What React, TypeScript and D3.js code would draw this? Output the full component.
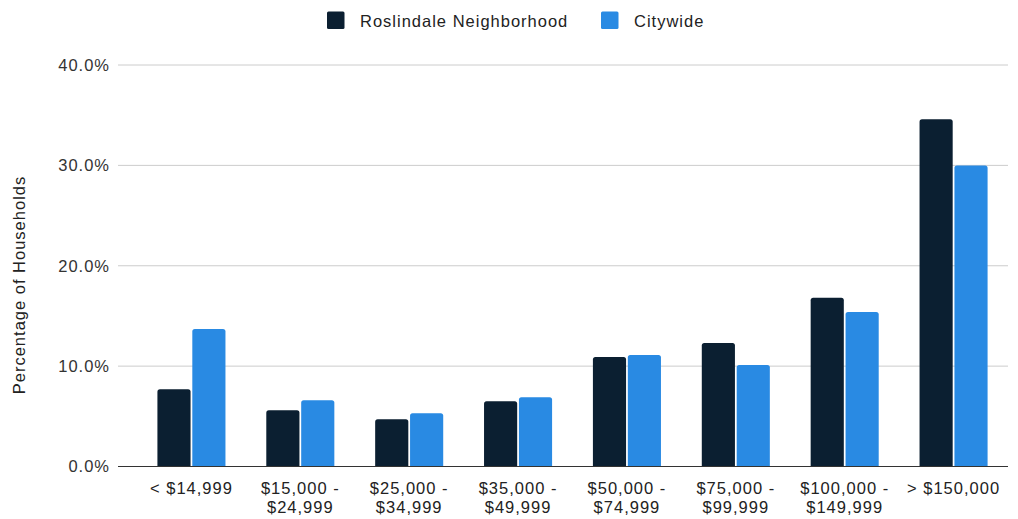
import * as d3 from "d3";

const categories = [
  ["< $14,999"],
  ["$15,000 -", "$24,999"],
  ["$25,000 -", "$34,999"],
  ["$35,000 -", "$49,999"],
  ["$50,000 -", "$74,999"],
  ["$75,000 -", "$99,999"],
  ["$100,000 -", "$149,999"],
  ["> $150,000"],
];
const roslindale = [7.7, 5.6, 4.7, 6.5, 10.9, 12.3, 16.8, 34.6];
const citywide = [13.7, 6.6, 5.3, 6.9, 11.1, 10.1, 15.4, 30.0];
const yTicks = [0, 10, 20, 30, 40];
const seriesNames = ["Roslindale Neighborhood", "Citywide"];
const colors = ["#0b1f31", "#298ae3"];

const width = 1018;
const height = 519;
const font = "'Liberation Sans', Arial, sans-serif";
const fs = 16.5;
const ls = 1;

function topRounded(x: number, y: number, w: number, h: number, r: number) {
  const rr = Math.min(r, h, w / 2);
  return `M${x},${y + h}V${y + rr}Q${x},${y} ${x + rr},${y}H${x + w - rr}Q${x + w},${y} ${x + w},${y + rr}V${y + h}Z`;
}

export default function App() {
  const keys = categories.map((c) => c.join(" "));
  const x = d3.scaleBand().domain(keys).range([137, 1008]).paddingInner(0.375).paddingOuter(0.1875);
  const sub = d3.scaleBand().domain(["0", "1"]).range([0, x.bandwidth()]).paddingInner(0.05);
  const y = d3.scaleLinear().domain([0, 40]).range([466.5, 65]);
  const fmt = d3.format(".1f");
  const series = [roslindale, citywide];

  return (
    <>
      <style>{"body{margin:0}"}</style>
      <svg width={width} height={height} style={{ display: "block", fontFamily: font, letterSpacing: ls }}>
        <rect width={width} height={height} fill="#fff" />
        {yTicks.map((t) => (
          <g key={t}>
            {t !== 0 && <line x1={118} x2={1008} y1={y(t)} y2={y(t)} stroke="#cccccc" strokeWidth={1} />}
            <text x={110} y={y(t)} dy="0.35em" textAnchor="end" fontSize={fs} fill="#333">
              {fmt(t)}%
            </text>
          </g>
        ))}
        {series.map((vals, si) =>
          vals.map((v, i) => {
            const bx = x(keys[i])! + sub(String(si))!;
            return (
              <path
                key={`${si}-${i}`}
                d={topRounded(bx, y(v), sub.bandwidth(), y(0) - y(v), 2.5)}
                fill={colors[si]}
              />
            );
          })
        )}
        <line x1={118} x2={1008} y1={y(0)} y2={y(0)} stroke="#333" strokeWidth={1.2} />
        {categories.map((lines, i) => (
          <text
            key={i}
            x={x(keys[i])! + x.bandwidth() / 2}
            y={494}
            textAnchor="middle"
            fontSize={fs}
            fill="#222"
          >
            {lines.map((l, j) => (
              <tspan key={j} x={x(keys[i])! + x.bandwidth() / 2} dy={j === 0 ? 0 : 19}>
                {l}
              </tspan>
            ))}
          </text>
        ))}
        <text
          transform={`translate(25,285) rotate(-90)`}
          textAnchor="middle"
          fontSize={fs}
          fill="#222"
        >
          Percentage of Households
        </text>
        {seriesNames.map((n, i) => {
          const lx = i === 0 ? 327 : 601;
          return (
            <g key={n}>
              <rect x={lx} y={11.5} width={17.5} height={17.5} rx={1.5} fill={colors[i]} />
              <text x={lx + 33} y={26.5} fontSize={fs} fill="#222">
                {n}
              </text>
            </g>
          );
        })}
      </svg>
    </>
  );
}
